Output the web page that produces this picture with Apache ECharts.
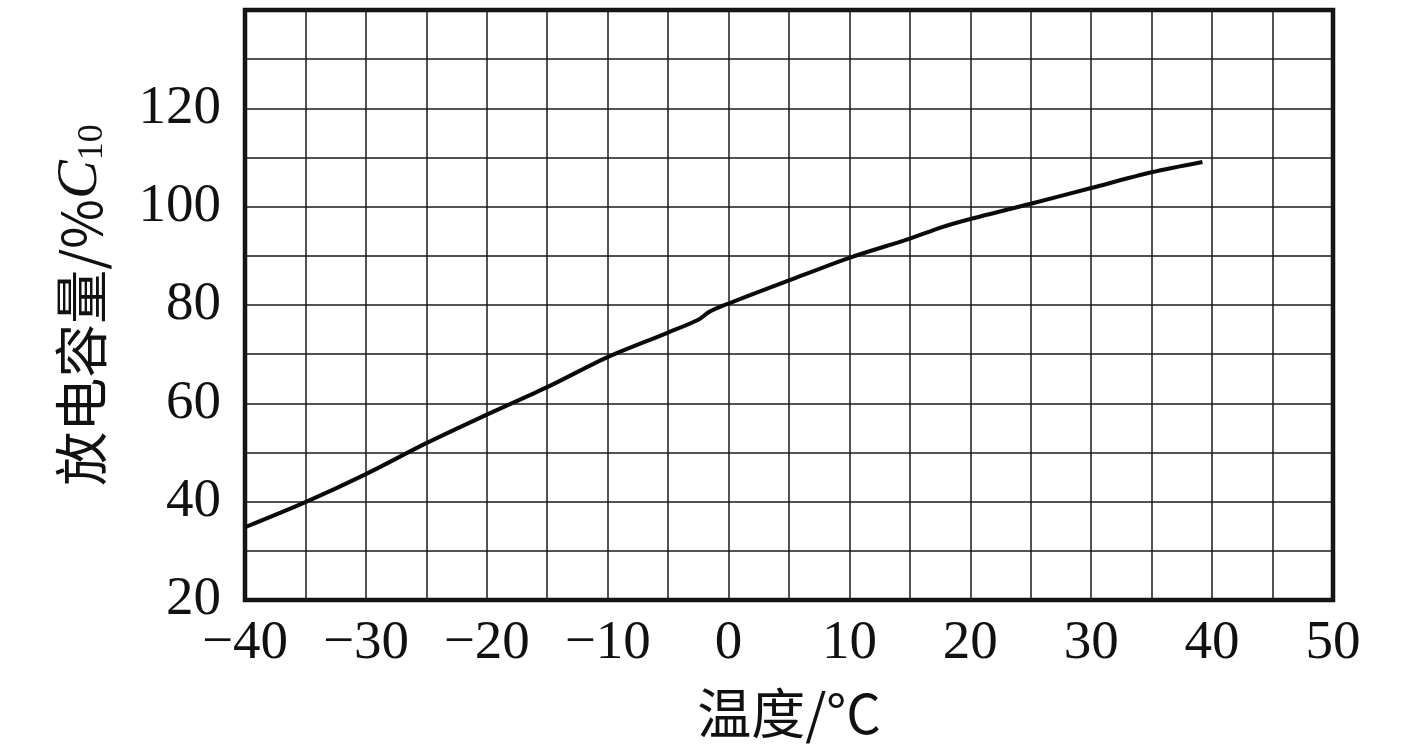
<!DOCTYPE html>
<html>
<head>
<meta charset="utf-8">
<script src="https://cdn.jsdelivr.net/npm/echarts@6/dist/echarts.min.js"></script>
<style>html,body{margin:0;padding:0;background:#fff;}#c{width:1417px;height:756px;}</style>
</head>
<body>
<div id="c"></div>
<script>
const temperature = [-40, -35, -30, -25, -20, -15, -10, -5, -2.5, -1.6, 0, 5, 10, 15, 17.6, 20, 25, 30, 35, 39.2];
const capacity = [34.8, 39.9, 45.6, 51.9, 57.7, 63.3, 69.4, 74.4, 77.0, 78.6, 80.3, 85.0, 89.6, 93.5, 95.8, 97.5, 100.6, 103.8, 107.0, 109.1];
const xTickLabels = [-40, -30, -20, -10, 0, 10, 20, 30, 40, 50];
const yTickLabels = [20, 40, 60, 80, 100, 120];

const serif = '"Liberation Serif", "Times New Roman", serif';
const cjk = '"Noto Sans CJK SC", "Liberation Serif", serif';

const chart = echarts.init(document.getElementById('c'));
chart.setOption({
  animation: false,
  backgroundColor: '#fff',
  grid: { left: 245, right: 84, top: 10, bottom: 156, show: true, borderColor: '#111', borderWidth: 4.5, backgroundColor: 'transparent' },
  xAxis: {
    type: 'value', min: -40, max: 50, interval: 5,
    axisLine: { show: false }, axisTick: { show: false },
    splitLine: { show: true, lineStyle: { color: '#1a1a1a', width: 1.5 } },
    axisLabel: {
      margin: 16, color: '#111', fontFamily: serif, fontSize: 55,
      formatter: v => xTickLabels.includes(v) ? String(v).replace('-', '\u2212') : ''
    },
    name: '温度/°C', nameLocation: 'middle', nameGap: 86,
    nameTextStyle: { color: '#111', fontFamily: cjk, fontSize: 54 }
  },
  yAxis: {
    type: 'value', min: 20, max: 140, interval: 10,
    axisLine: { show: false }, axisTick: { show: false },
    splitLine: { show: true, lineStyle: { color: '#1a1a1a', width: 1.5 } },
    axisLabel: {
      margin: 24, color: '#111', fontFamily: serif, fontSize: 55,
      formatter: v => yTickLabels.includes(v) ? String(v) : ''
    },
    name: '{a|放电容量/%}{c|C}{s|10}', nameLocation: 'middle', nameGap: 134, nameRotate: 90,
    nameTextStyle: {
      color: '#111',
      rich: {
        a: { fontFamily: cjk, fontSize: 54, color: '#111' },
        c: { fontFamily: serif, fontSize: 58, fontStyle: 'italic', color: '#111' },
        s: { fontFamily: serif, fontSize: 36, color: '#111', padding: [24, 0, 0, 0] }
      }
    }
  },
  series: [{
    type: 'line',
    data: temperature.map((t, i) => [t, capacity[i]]),
    showSymbol: false,
    smooth: 0.3,
    lineStyle: { color: '#0a0a0a', width: 4 },
    z: 5
  }]
});
</script>
</body>
</html>
